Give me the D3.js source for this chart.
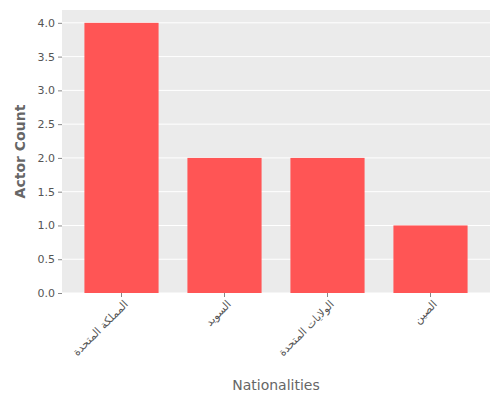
<!DOCTYPE html>
<html><head><meta charset="utf-8">
<script src="https://cdn.jsdelivr.net/npm/d3@7"></script>
<style>body{margin:0;background:#fff}text{font-family:"DejaVu Sans",sans-serif}</style>
</head><body><div id="chart"></div>
<script>
const nationalities = ["المملكة المتحدة", "السويد", "الولايات المتحدة", "الصين"];
const actorCounts = [4, 2, 2, 1];
const yTicks = [0, 0.5, 1, 1.5, 2, 2.5, 3, 3.5, 4];

const width = 500, height = 400;
const panel = { left: 62, right: 490, top: 10, bottom: 293 };

const svg = d3.select("#chart").append("svg")
  .attr("width", width).attr("height", height);

const xScale = d3.scaleBand().domain(nationalities)
  .range([70, 482]).paddingInner(0.28).paddingOuter(0.14);
const yScale = d3.scaleLinear().domain([0, 4.19])
  .range([panel.bottom, panel.top]);

svg.append("rect")
  .attr("x", panel.left).attr("y", panel.top)
  .attr("width", panel.right - panel.left).attr("height", panel.bottom - panel.top)
  .attr("fill", "#ebebeb");

// grid lines
svg.append("g").selectAll("line").data(yTicks).enter().append("line")
  .attr("x1", panel.left).attr("x2", panel.right)
  .attr("y1", (d) => yScale(d)).attr("y2", (d) => yScale(d))
  .attr("stroke", "#fff").attr("stroke-width", 1);

svg.append("g").selectAll(".bar").data(actorCounts).enter().append("rect")
  .attr("class", "bar")
  .attr("x", (d, i) => xScale(nationalities[i]))
  .attr("width", xScale.bandwidth())
  .attr("y", (d) => yScale(d))
  .attr("height", (d) => yScale(0) - yScale(d))
  .attr("fill", "#ff5555");

const yAxis = svg.append("g")
  .attr("transform", `translate(${panel.left},0)`)
  .call(d3.axisLeft(yScale).tickValues(yTicks).tickFormat(d3.format(".1f")).tickSize(4));
yAxis.select(".domain").remove();
yAxis.selectAll("line").attr("stroke", "#888");
yAxis.selectAll("text").attr("fill", "#555").style("font-size", "11px");

const xAxis = svg.append("g")
  .attr("transform", `translate(0,${panel.bottom})`)
  .call(d3.axisBottom(xScale).tickSize(4));
xAxis.select(".domain").remove();
xAxis.selectAll("line").attr("stroke", "#888");
xAxis.selectAll("text")
  .attr("fill", "#555").style("font-size", "11px")
  .attr("text-anchor", "end")
  .attr("dx", "-0.3em").attr("dy", "0.6em")
  .attr("transform", "rotate(-45)");

svg.append("text")
  .attr("x", (panel.left + panel.right) / 2).attr("y", 390)
  .attr("text-anchor", "middle").attr("fill", "#666")
  .style("font-size", "14px").text("Nationalities");

svg.append("text")
  .attr("transform", `translate(25,${(panel.top + panel.bottom) / 2})rotate(-90)`)
  .attr("text-anchor", "middle").attr("fill", "#666")
  .style("font-size", "14px").style("font-weight", "bold").text("Actor Count");
</script></body></html>
